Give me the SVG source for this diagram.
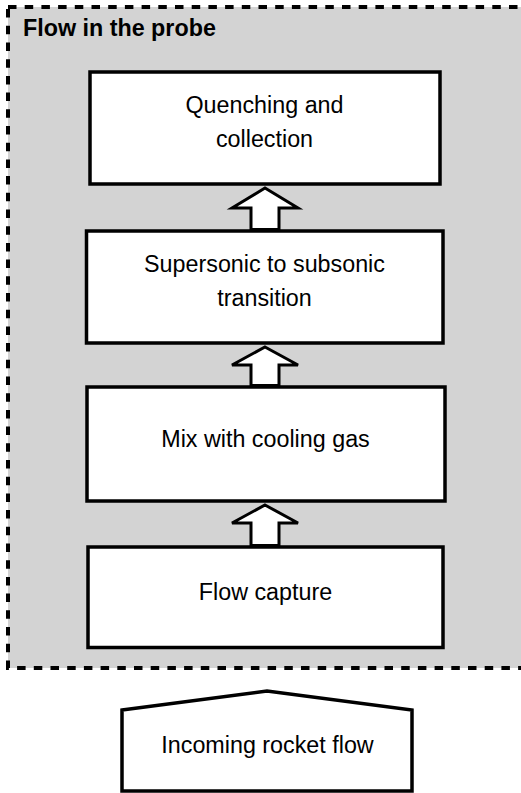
<svg xmlns="http://www.w3.org/2000/svg" width="521" height="793" viewBox="0 0 521 793">
<style>
.box{fill:#ffffff;stroke:#000000;stroke-width:3.5}
.arrow{fill:#ffffff;stroke:#000000;stroke-width:3;stroke-linejoin:miter}
.lbl{font-family:"Liberation Sans",Arial,Helvetica,sans-serif;font-size:23.3px;fill:#000000;text-anchor:middle}
.title{font-family:"Liberation Sans",Arial,Helvetica,sans-serif;font-size:23.3px;font-weight:bold;fill:#000000}
</style>
<rect width="521" height="793" fill="#ffffff"/>
<g id="probe">
<rect x="8" y="7" width="530" height="661" fill="#d3d3d3" stroke="#000000" stroke-width="4" stroke-dasharray="8.5 8.2"/>
<text class="title" x="23" y="35.5">Flow in the probe</text>
</g>
<g id="quenching">
<rect class="box" x="90" y="72" width="350" height="112"/>
<text class="lbl" x="264.5" y="113">Quenching and</text>
<text class="lbl" x="264.5" y="147">collection</text>
</g>
<g id="supersonic">
<rect class="box" x="86.5" y="231" width="356.5" height="112"/>
<text class="lbl" x="264.5" y="272">Supersonic to subsonic</text>
<text class="lbl" x="264.5" y="306">transition</text>
</g>
<g id="mix">
<rect class="box" x="87" y="387" width="358" height="114"/>
<text class="lbl" x="265.5" y="447">Mix with cooling gas</text>
</g>
<g id="capture">
<rect class="box" x="88" y="547" width="355" height="100.5"/>
<text class="lbl" x="265.5" y="600">Flow capture</text>
</g>
<g id="incoming">
<path class="box" d="M122,710 L267,691 L412,710 L412,791 L122,791 Z"/>
<text class="lbl" x="267.5" y="753">Incoming rocket flow</text>
</g>
<g id="connectors">
<path class="arrow" d="M265,188 L298,208 L279,208 L279,229.5 L251,229.5 L251,208 L232,208 Z"/>
<path class="arrow" d="M265,347 L298,365 L279,365 L279,385.5 L251,385.5 L251,365 L232,365 Z"/>
<path class="arrow" d="M265,505 L298,523 L279,523 L279,545.5 L251,545.5 L251,523 L232,523 Z"/>
</g>
</svg>
